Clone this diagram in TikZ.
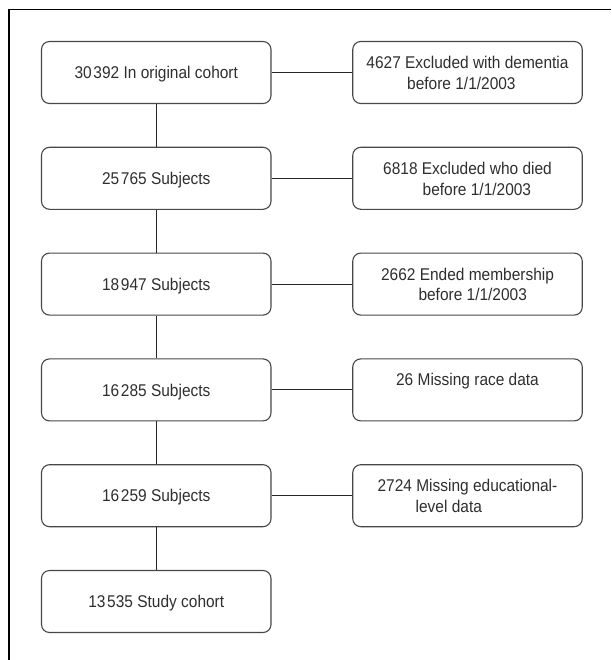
\documentclass[tikz,border=0pt]{standalone}
\usepackage{fontspec}
\setmainfont{Liberation Sans}[FakeStretch=0.91]
\definecolor{textgray}{HTML}{2E2E2E}
\definecolor{boxgray}{HTML}{474747}
\newcommand{\ths}{\hspace{0.1em}}
\begin{document}
\begin{tikzpicture}[x=1pt,y=-1pt,
  lbox/.style={draw=boxgray, line width=1.1pt, rounded corners=8pt,
    minimum width=229.5pt, minimum height=62pt, inner sep=0pt,
    text height=12.3pt, text depth=0pt, text=textgray,
    font=\fontsize{17}{20}\selectfont},
  rbox/.style={lbox},
  conn/.style={draw=black!85, line width=1.1pt},
  frameline/.style={draw=black, line width=1.3pt},
  txt/.style={inner sep=0pt, text=textgray, font=\fontsize{17}{20}\selectfont}]
\useasboundingbox (0,0) rectangle (611,660);
% frame
\coordinate (fbl) at (9,660);
\coordinate (ftl) at (9,9.7);
\coordinate (ftr) at (611,9.7);
\draw[frameline] (fbl) -- (ftl) -- (ftr);
% left column
\node[lbox] (l1) at (156.25,72.5) {30\ths392 In original cohort};
\node[lbox] (l2) at (156.25,178.3) {25\ths765 Subjects};
\node[lbox] (l3) at (156.25,284.1) {18\ths947 Subjects};
\node[lbox] (l4) at (156.25,389.9) {16\ths285 Subjects};
\node[lbox] (l5) at (156.25,495.7) {16\ths259 Subjects};
\node[lbox] (l6) at (156.25,601.5) {13\ths535 Study cohort};
% right column boxes
\node[rbox] (r1) at (467.5,72.5) {};
\node[rbox] (r2) at (467.5,178.3) {};
\node[rbox] (r3) at (467.5,284.1) {};
\node[rbox] (r4) at (467.5,389.9) {};
\node[rbox] (r5) at (467.5,495.7) {};
% right column texts
\node[txt, anchor=base] (r1a) at (467.5,68.5) {4627 Excluded with dementia};
\node[txt, anchor=base west] (r1b) at (407,89.3) {before 1/1/2003};
\node[txt, anchor=base] (r2a) at (467.5,174.3) {6818 Excluded who died};
\node[txt, anchor=base west] (r2b) at (422.5,195.1) {before 1/1/2003};
\node[txt, anchor=base] (r3a) at (467.5,280.1) {2662 Ended membership};
\node[txt, anchor=base west] (r3b) at (418.3,300.9) {before 1/1/2003};
\node[txt, anchor=base] (r4a) at (467.5,385.9) {26 Missing race data};
\node[txt, anchor=base] (r5a) at (467.5,491.7) {2724 Missing educational-};
\node[txt, anchor=base west] (r5b) at (415.5,512.5) {level data};
% connectors
\draw[conn] (l1) -- (l2);
\draw[conn] (l2) -- (l3);
\draw[conn] (l3) -- (l4);
\draw[conn] (l4) -- (l5);
\draw[conn] (l5) -- (l6);
\draw[conn] (l1) -- (r1);
\draw[conn] (l2) -- (r2);
\draw[conn] (l3) -- (r3);
\draw[conn] (l4) -- (r4);
\draw[conn] (l5) -- (r5);
\end{tikzpicture}
\end{document}
